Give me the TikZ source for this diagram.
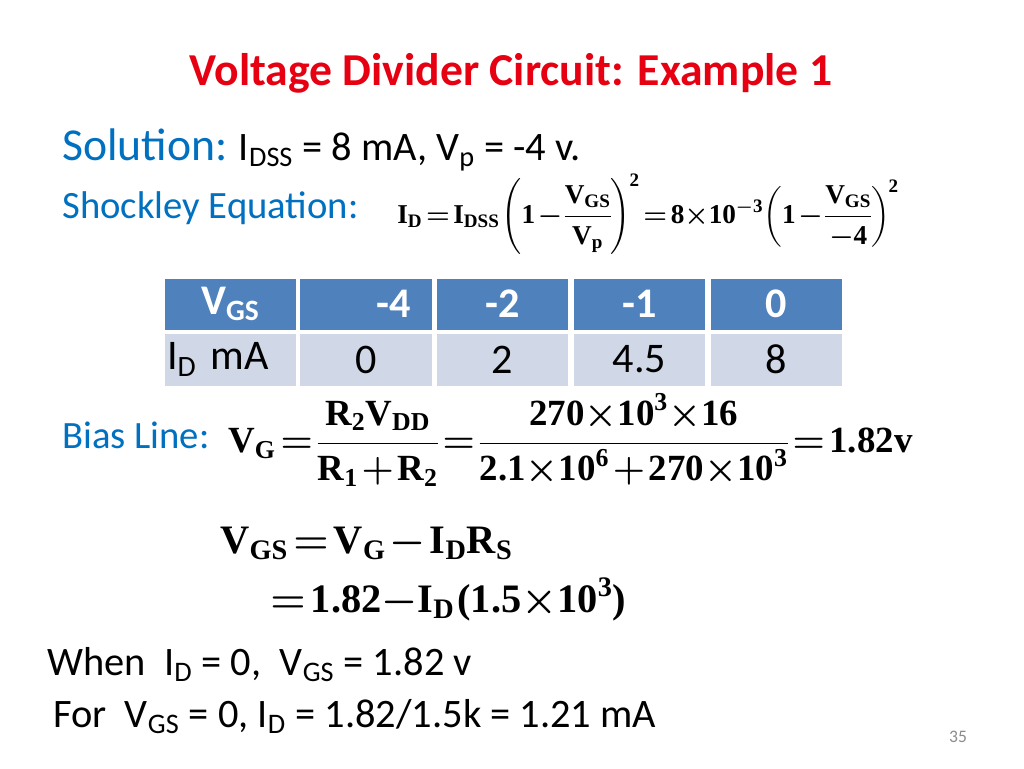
\RequirePackage{fix-cm}
\documentclass[tikz,border=0pt]{standalone}
\usepackage{amsmath}
\usepackage{fontspec}
\setmainfont{Carlito}
\newfontfamily\eqfont{Liberation Serif}
\usetikzlibrary{positioning}
\definecolor{titlered}{RGB}{230,0,18}
\definecolor{solblue}{RGB}{0,112,192}
\definecolor{hdrblue}{RGB}{79,129,189}
\definecolor{rowgray}{RGB}{208,216,232}
\definecolor{pagegray}{RGB}{140,140,140}
\newcommand{\eb}[1]{\text{\eqfont\bfseries #1}}
\newcommand{\tightmath}{\thickmuskip=2mu\medmuskip=1.5mu\thinmuskip=1mu\nulldelimiterspace=0pt\relax}

\begin{document}
\begin{tikzpicture}[x=0.02cm,y=-0.02cm]
        \tikzstyle{heading}=[font=\fontsize{26}{30}\selectfont\bfseries,text=titlered,inner sep=0pt]
        \tikzstyle{bluetext}=[text=solblue,inner sep=0pt]
        \tikzstyle{plain}=[font=\fontsize{23}{28}\selectfont,inner sep=0pt]
        \tikzstyle{hdrcell}=[rectangle,fill=hdrblue,text=white,minimum width=2.64cm,minimum height=1.02cm,inner sep=0pt,font=\fontsize{24}{28}\selectfont\bfseries]
        \tikzstyle{rowcell}=[rectangle,fill=rowgray,minimum width=2.64cm,minimum height=1.04cm,inner sep=0pt,font=\fontsize{24}{28}\selectfont]
        \tikzstyle{eqn}=[inner sep=0pt,anchor=west]
        \useasboundingbox[fill=white] (0,0) rectangle (1024,768);
        % title
        \node[heading,anchor=base] (title) at (511,85) {Voltage Divider Circuit: Example 1};
        % given data
        \node[bluetext,font=\fontsize{26}{30}\selectfont,anchor=base west] (sol) at (62,160) {Solution:};
        \node[plain,right=6pt of sol.base east,anchor=base west] (given) {I$_{\text{DSS}}$ = 8 mA, V$_{\text{p}}$ = -4 v.};
        \node[bluetext,font=\fontsize{22}{26}\selectfont,anchor=base west] (shock) at (62,218) {Shockley Equation:};
        \node[eqn,font=\fontsize{15.5}{18}\selectfont\boldmath\tightmath] (shockeq) at (397,214)
            {$\eb{I}_{\eb{D}}=\eb{I}_{\eb{DSS}}\left(\eb{1}-\dfrac{\eb{V}_{\eb{GS}}}{\eb{V}_{\eb{p}}}\right)^{\!\eb{2}}=\eb{8}{\times}\eb{10}^{-\eb{3}}\!\left(\eb{1}-\dfrac{\eb{V}_{\eb{GS}}}{-\eb{4}}\right)^{\!\eb{2}}$};
        % table
        \foreach \cx/\hv/\rv [count=\i] in {366/\hspace*{1.3em}-4/0,502.5/-2/2,639.5/-1/4.5,776.5/0/8}{
            \node[hdrcell] (h\i) at (\cx,304) {\hv};
            \node[rowcell] (r\i) at (\cx,359.5) {\rv};
        }
        \node[hdrcell] (h0) at (230.5,304) {V$_{\text{GS}}$};
        \node[rowcell,text width=2.54cm,align=left] (r0) at (230.5,359.5) {I$_{\text{D}}$ mA};
        % bias line
        \node[bluetext,font=\fontsize{22}{26}\selectfont,anchor=base west] (bias) at (62,448) {Bias Line:};
        \node[eqn,font=\fontsize{21}{25}\selectfont\boldmath\tightmath] (biaseq) at (228,440)
            {$\eb{V}_{\eb{G}}=\dfrac{\eb{R}_{\eb{2}}\eb{V}_{\eb{DD}}}{\eb{R}_{\eb{1}}+\eb{R}_{\eb{2}}}=\dfrac{\eb{270}{\times}\eb{10}^{\eb{3}}{\times}\eb{16}}{\eb{2.1}{\times}\eb{10}^{\eb{6}}+\eb{270}{\times}\eb{10}^{\eb{3}}}=\eb{1.82v}$};
        % gate-source loop
        \node[eqn,anchor=base west,font=\fontsize{23}{28}\selectfont\boldmath\tightmath] (vgs) at (220,553)
            {$\eb{V}_{\eb{GS}}=\eb{V}_{\eb{G}}-\eb{I}_{\eb{D}}\eb{R}_{\eb{S}}$};
        \node[eqn,anchor=base west,font=\fontsize{23}{28}\selectfont\boldmath\tightmath] (vgs2) at (270,612)
            {$=\eb{1.82}{-}\eb{I}_{\eb{D}}\,\eb{(1.5}{\times}\eb{10}^{\eb{3}}\eb{)}$};
        % end points of the bias line
        \node[plain,anchor=base west] (when) at (47,675) {When\ \ I$_{\text{D}}$ = 0,\ \ V$_{\text{GS}}$ = 1.82 v};
        \node[plain,anchor=base west] (for) at (53,727) {For\ \ V$_{\text{GS}}$ = 0,\ I$_{\text{D}}$ = 1.82/1.5k = 1.21 mA};
        \node[text=pagegray,font=\fontsize{10}{12}\selectfont,inner sep=0pt] (page) at (958,737) {35};
    \end{tikzpicture}
\end{document}
